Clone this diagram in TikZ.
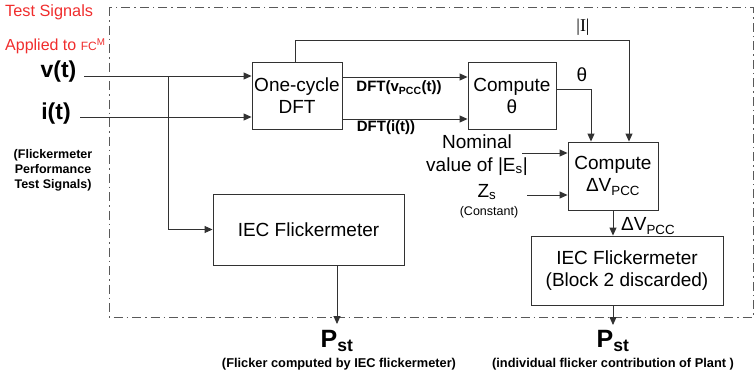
\documentclass[tikz,border=0pt]{standalone}
\usepackage{fontspec}
\setmainfont{Liberation Sans}
\newfontfamily\serifbar{Liberation Serif}
\usetikzlibrary{arrows.meta,calc,positioning}
\definecolor{sigred}{RGB}{240,45,45}
\definecolor{wiregray}{RGB}{50,50,50}
\tikzset{
  blk/.style={draw=wiregray, line width=0.9pt, align=center, inner sep=0pt,
    font=\fontsize{19}{22}\selectfont},
  wire/.style={draw=wiregray, line width=0.9pt},
  arr/.style={wire, -{Triangle[length=8pt,width=7pt]}},
  lbl/.style={inner sep=0pt, align=center},
}

\begin{document}
\begin{tikzpicture}[x=1pt,y=-1pt]
    \useasboundingbox (0,0) rectangle (755,376);
    % dash-dot frame round the meter
    \draw[gray!70!black, line width=0.8pt, dash pattern=on 9pt off 4pt on 1.5pt off 4pt]
        (109,7) rectangle (753,317);
    % blocks
    \node[blk, minimum width=90pt, minimum height=67pt] (dft) at (297,95.5) {One-cycle\\DFT};
    \node[blk, minimum width=88pt, minimum height=67pt] (theta) at (512,95.5) {Compute\\θ};
    \node[blk, minimum width=90pt, minimum height=68pt] (dv) at (613,176) {Compute\\ΔV\textsubscript{PCC}};
    \node[blk, minimum width=191pt, minimum height=71pt] (iec) at (308.5,229.5) {IEC Flickermeter};
    \node[blk, minimum width=192pt, minimum height=69pt] (iecb) at (627,270.5) {IEC Flickermeter\\(Block 2 discarded)};
    % labels
    \node[lbl, anchor=west, text=sigred, font=\fontsize{16.3}{18}\selectfont] (tsig) at (5,12) {Test Signals};
    \node[lbl, anchor=west, text=sigred, font=\fontsize{16}{18}\selectfont] (appl) at (5,46)
        {Applied to {\fontsize{12}{14}\selectfont FC}{\fontsize{14}{16}\selectfont\textsuperscript{M}}};
    \node[lbl, font=\fontsize{23}{26}\bfseries] (v) at (58.5,72) {v(t)};
    \node[lbl, font=\fontsize{23}{26}\bfseries] (i) at (56,114) {i(t)};
    \node[lbl, font=\fontsize{12.5}{15}\bfseries] (tsname) at (53,170)
        {(Flickermeter\\Performance\\Test Signals)};
    \node[lbl, font=\fontsize{15}{18}\bfseries] (dftv) at (399,88) {DFT(v\textsubscript{PCC}(t))};
    \node[lbl, font=\fontsize{15}{18}\bfseries] (dfti) at (386,128) {DFT(i(t))};
    \node[lbl, font=\fontsize{19}{21}\selectfont] (th) at (582,75) {θ};
    \node[lbl, font=\fontsize{18}{21}\serifbar] (absi) at (583,27) {|I|};
    \node[lbl, font=\fontsize{19}{23}\selectfont] (es) at (477,155) {Nominal\\value of |E\textsubscript{s}|};
    \node[lbl, font=\fontsize{19}{21}\selectfont] (zs) at (487,192) {Z\textsubscript{s}};
    \node[lbl, font=\fontsize{12.5}{15}\selectfont] (const) at (489,212) {(Constant)};
    \node[lbl, anchor=west, font=\fontsize{19}{21}\selectfont] (dvl) at (621,226) {ΔV\textsubscript{PCC}};
    \node[lbl, font=\fontsize{25}{28}\bfseries] (pst) at (337,341) {P\textsubscript{st}};
    \node[lbl, font=\fontsize{25}{28}\bfseries] (pstb) at (613,341) {P\textsubscript{st}};
    \node[lbl, font=\fontsize{12.8}{15}\bfseries] (cap) at (339,364) {(Flicker computed by IEC flickermeter)};
    \node[lbl, font=\fontsize{12.8}{15}\bfseries] (capb) at (613,364) {(individual flicker contribution of Plant )};
    % wire ends and bends
    \coordinate (vin) at (84,76);
    \coordinate (iin) at (80,117);
    \coordinate (tap) at (168,76);
    \coordinate (out) at (337,324);
    \coordinate (outb) at (613,325);
    \coordinate (esin) at (522,153);
    \coordinate (zsin) at (527,195);
    % connections
    \draw[arr] (vin) -- (vin -| dft.west);
    \draw[arr] (iin) -- (iin -| dft.west);
    \draw[arr] (tap) |- (iec.west);
    \draw[arr] (dft.east |- 0,77) -- (theta.west |- 0,77);
    \draw[arr] (dft.east |- 0,119) -- (theta.west |- 0,119);
    \draw[arr] ($(dft.north)+(-2,0)$) |- (629,40) -- (dv.north -| 629,0);
    \draw[arr] (theta.east |- 0,89) -| (dv.north -| 591,0);
    \draw[arr] (esin) -- (esin -| dv.west);
    \draw[arr] (zsin) -- (zsin -| dv.west);
    \draw[arr] (dv.south) -- (dv.south |- iecb.north);
    \draw[arr] (iec.south -| out) -- (out);
    \draw[arr] (iecb.south -| outb) -- (outb);
\end{tikzpicture}
\end{document}
